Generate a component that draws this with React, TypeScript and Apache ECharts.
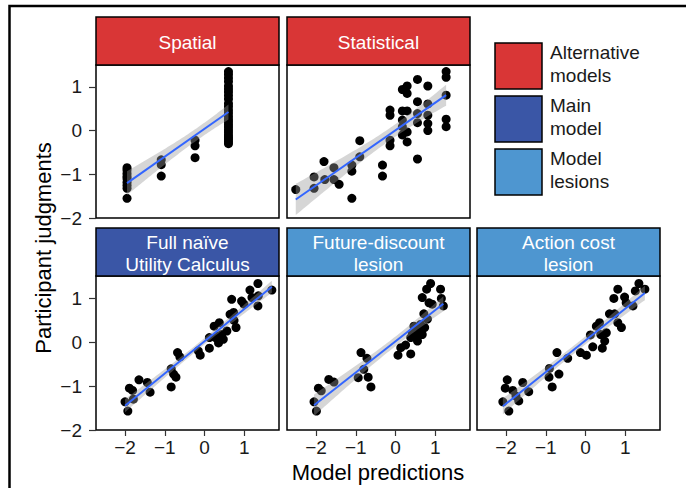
import React, { useEffect, useRef } from 'react';
import * as echarts from 'echarts';

// ---------- DATA ----------
const PANEL_TITLES = ['Spatial', 'Statistical', 'Full naïve\nUtility Calculus', 'Future-discount\nlesion', 'Action cost\nlesion'];
const PANEL_GROUP = [0, 0, 1, 2, 2];
const LEGEND_LABELS = ['Alternative\nmodels', 'Main\nmodel', 'Model\nlesions'];
const X_TICKS = [-2, -1, 0, 1];
const Y_TICKS = [-2, -1, 0, 1];
const X_TITLE = 'Model predictions';
const Y_TITLE = 'Participant judgments';

const spatialPoints: number[][] = [
  [-1.95, -0.85], [-1.95, -0.9], [-1.95, -0.98], [-1.95, -1.05], [-1.95, -1.1], [-1.95, -1.18], [-1.95, -1.25], [-1.95, -1.32], [-1.95, -1.55],
  [-1.09, -0.67], [-1.09, -0.78], [-1.09, -1.04],
  [-0.24, -0.22], [-0.24, -0.35], [-0.24, -0.62],
  [0.6, 1.35], [0.6, 1.28], [0.6, 1.2], [0.6, 1.12], [0.6, 1.02], [0.6, 0.95], [0.6, 0.88], [0.6, 0.8], [0.6, 0.72], [0.6, 0.62],
  [0.6, 0.55], [0.6, 0.47], [0.6, 0.4], [0.6, 0.33], [0.6, 0.26], [0.6, 0.2], [0.6, 0.14], [0.6, 0.08], [0.6, 0.02], [0.6, -0.04],
  [0.6, -0.1], [0.6, -0.15], [0.6, -0.2], [0.6, -0.25], [0.6, -0.3],
];

const statisticalPoints: number[][] = [
  [-2.51, -1.35], [-2.05, -1.06], [-2.05, -1.32], [-1.8, -0.71], [-1.78, -1.12], [-1.55, -0.85], [-1.55, -1.12], [-1.42, -1.23],
  [-1.1, -1.55], [-1.1, -0.79], [-1.1, -0.93], [-0.9, -0.23], [-0.9, -0.6], [-0.33, -0.79], [-0.33, -1.04],
  [-0.14, -0.22], [-0.14, -0.35], [-0.14, 0.47], [-0.14, 0.35], [0.17, 0.94], [0.29, 1.02], [0.29, 0.85], [0.17, 0.45],
  [0.29, 0.45], [0.17, 0.24], [0.17, 0.09], [0.17, -0.1], [0.29, -0.03], [0.29, -0.26], [0.55, 1.17], [0.55, 0.66],
  [0.55, 0.39], [0.55, 0.18], [0.55, -0.65], [0.81, 1.02], [0.81, 0.61], [0.81, 0.35], [0.81, 0.16], [0.81, 0.0],
  [1.27, 1.35], [1.27, 1.22], [1.27, 0.81], [1.27, 0.26], [1.27, 0.09],
];

const fullUCPoints: number[][] = [
  [-2.0, -1.36], [-1.93, -1.57], [-1.89, -1.05], [-1.81, -1.1], [-1.79, -1.3], [-1.65, -0.86], [-1.44, -0.92], [-1.37, -1.14],
  [-0.84, -1.02], [-0.84, -0.61], [-0.78, -0.73], [-0.72, -0.8], [-0.68, -0.24], [-0.62, -0.34], [-0.16, -0.2], [-0.11, -0.3],
  [0.12, 0.1], [0.12, -0.14], [0.24, 0.36], [0.35, -0.02], [0.37, 0.44], [0.43, 0.17], [0.47, 0.06], [0.56, 0.25],
  [0.64, 0.63], [0.68, 0.97], [0.74, 0.49], [0.79, 0.33], [0.93, 0.93], [0.99, 0.86], [1.14, 1.18], [1.19, 1.01],
  [1.34, 1.33], [1.34, 0.82], [1.69, 1.18], [0.27, 0.1], [0.31, 0.13], [0.73, 0.67], [1.35, 1.05],
];

const futureDiscountPoints: number[][] = [
  [-2.05, -1.36], [-1.99, -1.57], [-1.94, -1.05], [-1.87, -1.11], [-1.68, -0.85], [-1.55, -0.91], [-0.94, -0.81], [-0.87, -0.24],
  [-0.72, -0.37], [-0.8, -0.62], [-0.69, -0.8], [-0.62, -1.02], [0.06, -0.3], [0.13, -0.13], [0.25, -0.07], [0.38, -0.27],
  [0.38, 0.1], [0.46, 0.36], [0.42, 0.21], [0.55, 0.02], [0.56, 0.25], [0.63, 0.4], [0.67, 0.17], [0.71, 0.64],
  [0.73, 0.33], [0.67, 1.01], [0.78, 1.2], [0.88, 1.33], [0.84, 0.89], [0.92, 0.86], [1.13, 1.2], [1.15, 0.99],
  [1.2, 0.82], [0.8, 0.52], [0.5, 0.14],
];

const actionCostPoints: number[][] = [
  [-2.08, -1.36], [-1.93, -1.57], [-2.02, -1.05], [-1.97, -0.86], [-1.83, -1.1], [-1.75, -1.23], [-1.68, -1.34], [-1.58, -0.92],
  [-1.43, -1.13], [-0.91, -0.6], [-0.92, -0.8], [-0.84, -1.02], [-0.72, -0.24], [-0.67, -0.73], [-0.45, -0.37], [-0.13, -0.24],
  [0.02, -0.3], [0.12, 0.16], [0.18, -0.11], [0.27, 0.36], [0.35, 0.44], [0.42, -0.14], [0.48, 0.02], [0.52, 0.21],
  [0.6, 0.64], [0.73, 0.64], [0.81, 0.44], [0.9, 0.33], [0.71, 0.99], [0.81, 1.2], [0.98, 1.02], [1.02, 0.89],
  [1.19, 0.82], [1.25, 1.16], [1.34, 1.33], [1.49, 1.2], [0.38, 0.17],
];

const PANEL_POINTS = [spatialPoints, statisticalPoints, fullUCPoints, futureDiscountPoints, actionCostPoints];

// ---------- STYLE / LAYOUT ----------
const FONT = '"Liberation Sans", Arial, Helvetica, sans-serif';
const GROUP_COLORS = ['#D93636', '#3A56A6', '#4E96D0'];
const COL_LEFT = [96, 287, 477];
const PANEL_W = 183;
const ROW_TOP = [65, 276];
const ROW_H = [153, 154];
const STRIP_TOP = [17, 228];
const X_MIN = -2.73;
const X_MAX = 1.87;
const Y_MIN = -2;
const Y_MAX = 1.5;
const T_CRIT = 2.02;

const minusFmt = (v: number) => (v < 0 ? '\u2212' + Math.abs(v) : String(v));

function fitLine(points: number[][]) {
  const n = points.length;
  let sx = 0, sy = 0;
  points.forEach(([x, y]) => { sx += x; sy += y; });
  const xbar = sx / n, ybar = sy / n;
  let sxx = 0, sxy = 0;
  points.forEach(([x, y]) => { sxx += (x - xbar) ** 2; sxy += (x - xbar) * (y - ybar); });
  const b = sxy / sxx;
  const a = ybar - b * xbar;
  let rss = 0;
  points.forEach(([x, y]) => { rss += (y - a - b * x) ** 2; });
  const s = Math.sqrt(rss / (n - 2));
  const xs = points.map((p) => p[0]);
  const xmin = Math.min(...xs), xmax = Math.max(...xs);
  const upper: number[][] = [];
  const lower: number[][] = [];
  const steps = 60;
  for (let i = 0; i <= steps; i++) {
    const x = xmin + ((xmax - xmin) * i) / steps;
    const yh = a + b * x;
    const se = s * Math.sqrt(1 / n + (x - xbar) ** 2 / sxx);
    upper.push([x, yh + T_CRIT * se]);
    lower.push([x, yh - T_CRIT * se]);
  }
  return { line: [[xmin, a + b * xmin], [xmax, a + b * xmax]], upper, lower };
}

function panelPos(i: number) {
  const row = i < 2 ? 0 : 1;
  const col = i < 2 ? i : i - 2;
  return { row, col };
}

function buildOption() {
  const grids: any[] = [];
  const xAxes: any[] = [];
  const yAxes: any[] = [];
  const series: any[] = [];
  const graphics: any[] = [];

  PANEL_POINTS.forEach((pts, i) => {
    const { row, col } = panelPos(i);
    grids.push({
      left: COL_LEFT[col], top: ROW_TOP[row], width: PANEL_W, height: ROW_H[row],
      show: true, borderColor: '#000', borderWidth: 1.5, backgroundColor: '#fff',
    });
    xAxes.push({
      gridIndex: i, type: 'value', min: X_MIN, max: X_MAX, position: 'bottom',
      axisLine: { show: false, onZero: false }, splitLine: { show: false },
      axisTick: { show: row === 1, length: 6, lineStyle: { color: '#333', width: 1.2 }, customValues: X_TICKS },
      axisLabel: { show: row === 1, customValues: X_TICKS, formatter: minusFmt, fontSize: 19, color: '#1a1a1a', margin: 8, fontFamily: FONT },
    });
    yAxes.push({
      gridIndex: i, type: 'value', min: Y_MIN, max: Y_MAX, position: 'left',
      axisLine: { show: false, onZero: false }, splitLine: { show: false },
      axisTick: { show: col === 0, length: 7, lineStyle: { color: '#333', width: 1.2 }, customValues: Y_TICKS },
      axisLabel: { show: col === 0, customValues: Y_TICKS, formatter: minusFmt, fontSize: 19, color: '#1a1a1a', margin: 14, fontFamily: FONT },
    });
    const f = fitLine(pts);
    series.push({
      type: 'scatter', xAxisIndex: i, yAxisIndex: i, data: pts, symbolSize: 9,
      itemStyle: { color: '#000', opacity: 1 }, z: 2, silent: true,
    });
    series.push({
      type: 'custom', xAxisIndex: i, yAxisIndex: i, data: [f.upper[0]], z: 3, silent: true,
      renderItem: (_params: any, api: any) => {
        const poly = [
          ...f.upper.map((p) => api.coord(p)),
          ...f.lower.slice().reverse().map((p) => api.coord(p)),
        ];
        return { type: 'polygon', shape: { points: poly }, style: { fill: 'rgba(153,153,153,0.4)' } };
      },
    });
    series.push({
      type: 'line', xAxisIndex: i, yAxisIndex: i, data: f.line, symbol: 'none', z: 4, silent: true,
      lineStyle: { color: '#3366FF', width: 2 },
    });

    // strip
    const sTop = STRIP_TOP[row];
    const sH = ROW_TOP[row] - sTop;
    graphics.push({
      type: 'rect', shape: { x: COL_LEFT[col], y: sTop, width: PANEL_W, height: sH },
      style: { fill: GROUP_COLORS[PANEL_GROUP[i]], stroke: '#000', lineWidth: 1.5 }, silent: true, z: 10,
    });
    graphics.push({
      type: 'text', x: COL_LEFT[col] + PANEL_W / 2, y: sTop + sH / 2 + 1, silent: true, z: 11,
      style: { text: PANEL_TITLES[i], fill: '#fff', font: `19px ${FONT}`, align: 'center', verticalAlign: 'middle', lineHeight: 22 },
    });
  });

  // legend
  const LEG_TOPS = [43, 96, 149];
  LEGEND_LABELS.forEach((lab, k) => {
    graphics.push({
      type: 'rect', shape: { x: 495, y: LEG_TOPS[k], width: 47, height: 46 },
      style: { fill: GROUP_COLORS[k], stroke: '#000', lineWidth: 1.5 }, silent: true, z: 10,
    });
    graphics.push({
      type: 'text', x: 550, y: LEG_TOPS[k] + 21, silent: true, z: 11,
      style: { text: lab, fill: '#1a1a1a', font: `19px ${FONT}`, align: 'left', verticalAlign: 'middle', lineHeight: 23 },
    });
  });

  // axis titles
  graphics.push({
    type: 'text', x: 378, y: 472, silent: true, z: 11,
    style: { text: X_TITLE, fill: '#000', font: `22px ${FONT}`, align: 'center', verticalAlign: 'middle' },
  });
  graphics.push({
    type: 'text', x: 43, y: 248, rotation: Math.PI / 2, silent: true, z: 11,
    style: { text: Y_TITLE, fill: '#000', font: `22px ${FONT}`, align: 'center', verticalAlign: 'middle' },
  });
  // outer frame
  graphics.push({
    type: 'rect', shape: { x: 9.5, y: 6, width: 720, height: 520 }, silent: true, z: 12,
    style: { fill: 'transparent', stroke: '#000', lineWidth: 2.5 },
  });

  return {
    animation: false,
    backgroundColor: '#fff',
    textStyle: { fontFamily: FONT },
    grid: grids,
    xAxis: xAxes,
    yAxis: yAxes,
    series,
    graphic: { elements: graphics },
  };
}

export default function App() {
  const ref = useRef<HTMLDivElement>(null);
  useEffect(() => {
    if (!ref.current) return;
    const chart = echarts.init(ref.current, null, { renderer: 'svg' });
    chart.setOption(buildOption() as any);
    return () => chart.dispose();
  }, []);
  return <div ref={ref} style={{ position: 'absolute', left: 0, top: 0, width: 686, height: 488 }} />;
}
